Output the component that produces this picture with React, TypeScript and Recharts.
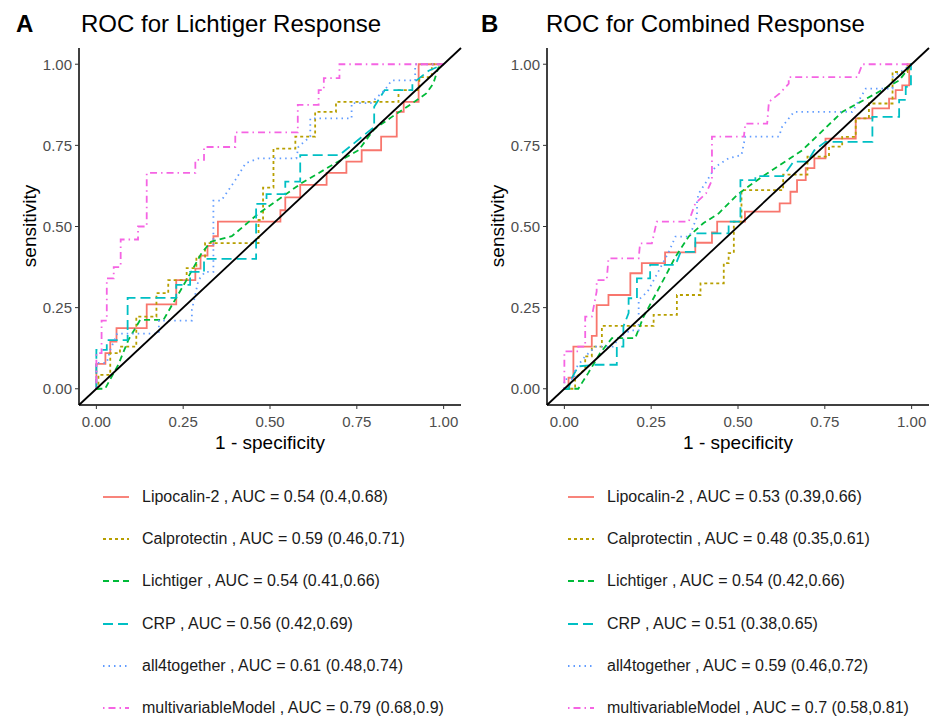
import React from "react";
import { LineChart, Line, XAxis, YAxis, ReferenceLine } from "recharts";

// shared look of the six ROC curves
const seriesNames = ["Lipocalin-2", "Calprotectin", "Lichtiger", "CRP", "all4together", "multivariableModel"];
const seriesColors = ["#F8766D", "#B79F00", "#00BA38", "#00BFC4", "#619CFF", "#F564E3"];
const seriesDash = ["", "3 3", "6 4", "10 5", "1.5 4", "1.5 4 7 4"];
const axisTicks = [0, 0.25, 0.5, 0.75, 1];

const aucA = ["0.54 (0.4,0.68)", "0.59 (0.46,0.71)", "0.54 (0.41,0.66)", "0.56 (0.42,0.69)", "0.61 (0.48,0.74)", "0.79 (0.68,0.9)"];
const aucB = ["0.53 (0.39,0.66)", "0.48 (0.35,0.61)", "0.54 (0.42,0.66)", "0.51 (0.38,0.65)", "0.59 (0.46,0.72)", "0.7 (0.58,0.81)"];

// panel A: [1 - specificity, sensitivity]
const aLipocalin = [[0,0],[0,0.077],[0.026,0.077],[0.026,0.11],[0.04,0.11],[0.04,0.145],[0.058,0.145],[0.058,0.187],[0.145,0.187],[0.145,0.26],[0.23,0.26],[0.23,0.335],[0.285,0.335],[0.285,0.37],[0.3,0.37],[0.3,0.41],[0.32,0.41],[0.32,0.44],[0.337,0.44],[0.337,0.47],[0.35,0.47],[0.35,0.515],[0.53,0.515],[0.53,0.55],[0.544,0.55],[0.544,0.59],[0.587,0.59],[0.587,0.628],[0.663,0.628],[0.663,0.665],[0.72,0.665],[0.72,0.7],[0.764,0.7],[0.764,0.735],[0.82,0.735],[0.82,0.777],[0.865,0.777],[0.865,0.853],[0.885,0.853],[0.885,0.884],[0.928,0.884],[0.928,1],[1,1]];
const aCalprotectin = [[0,0],[0.006,0],[0.006,0.043],[0.04,0.043],[0.04,0.11],[0.068,0.11],[0.068,0.13],[0.115,0.13],[0.115,0.222],[0.173,0.222],[0.173,0.295],[0.207,0.295],[0.207,0.335],[0.26,0.335],[0.26,0.372],[0.288,0.372],[0.288,0.407],[0.313,0.407],[0.313,0.449],[0.467,0.449],[0.467,0.52],[0.48,0.52],[0.48,0.62],[0.51,0.62],[0.51,0.74],[0.573,0.74],[0.573,0.777],[0.63,0.777],[0.63,0.853],[0.69,0.853],[0.69,0.884],[0.87,0.884],[0.87,0.92],[0.93,0.92],[0.93,0.96],[0.966,0.96],[0.966,1],[1,1]];
const aLichtiger = [[0,0],[0.025,0],[0.063,0.074],[0.092,0.15],[0.126,0.212],[0.193,0.212],[0.265,0.345],[0.303,0.418],[0.33,0.453],[0.39,0.47],[0.467,0.54],[0.59,0.633],[0.688,0.695],[0.755,0.735],[0.8,0.8],[0.85,0.837],[0.91,0.88],[0.95,0.91],[0.97,0.94],[0.985,0.99],[1,1]];
const aCRP = [[0,0],[0,0.12],[0.03,0.12],[0.03,0.15],[0.09,0.15],[0.09,0.28],[0.23,0.28],[0.23,0.32],[0.27,0.32],[0.27,0.36],[0.31,0.36],[0.31,0.4],[0.46,0.4],[0.46,0.57],[0.49,0.57],[0.49,0.6],[0.544,0.6],[0.544,0.638],[0.587,0.638],[0.587,0.72],[0.7,0.72],[0.8,0.807],[0.8,0.869],[0.83,0.92],[0.91,0.92],[0.91,0.94],[0.957,0.98],[1,1]];
const aAll4 = [[0,0],[0,0.08],[0.03,0.08],[0.04,0.12],[0.06,0.17],[0.18,0.17],[0.18,0.21],[0.275,0.21],[0.275,0.243],[0.294,0.335],[0.313,0.36],[0.337,0.36],[0.337,0.58],[0.36,0.58],[0.4,0.643],[0.43,0.695],[0.467,0.71],[0.576,0.71],[0.582,0.746],[0.616,0.777],[0.616,0.833],[0.735,0.833],[0.735,0.88],[0.79,0.88],[0.83,0.92],[0.85,0.95],[0.918,0.95],[0.918,1],[1,1]];
const aMulti = [[0,0],[0,0.11],[0.015,0.11],[0.015,0.21],[0.03,0.21],[0.03,0.34],[0.05,0.34],[0.05,0.375],[0.07,0.375],[0.07,0.46],[0.12,0.46],[0.12,0.5],[0.145,0.5],[0.145,0.665],[0.285,0.665],[0.285,0.705],[0.31,0.705],[0.31,0.745],[0.4,0.745],[0.4,0.79],[0.58,0.79],[0.58,0.875],[0.64,0.875],[0.64,0.92],[0.655,0.92],[0.655,0.957],[0.7,0.957],[0.7,1],[1,1]];

// panel B
const bLipocalin = [[0,0],[0.012,0],[0.012,0.034],[0.026,0.034],[0.026,0.13],[0.079,0.13],[0.079,0.163],[0.093,0.163],[0.093,0.258],[0.127,0.258],[0.127,0.289],[0.19,0.289],[0.19,0.356],[0.223,0.356],[0.223,0.387],[0.29,0.387],[0.29,0.42],[0.377,0.42],[0.377,0.45],[0.425,0.45],[0.425,0.482],[0.44,0.482],[0.44,0.515],[0.52,0.515],[0.52,0.546],[0.62,0.546],[0.62,0.571],[0.651,0.571],[0.651,0.607],[0.67,0.607],[0.67,0.643],[0.695,0.643],[0.695,0.68],[0.72,0.68],[0.72,0.71],[0.752,0.71],[0.752,0.771],[0.839,0.771],[0.839,0.833],[0.887,0.833],[0.887,0.864],[0.935,0.864],[0.935,0.894],[0.954,0.894],[0.954,0.92],[0.973,0.92],[0.973,0.935],[0.993,0.935],[0.993,1],[1,1]];
const bCalprotectin = [[0,0],[0.031,0],[0.031,0.034],[0.06,0.06],[0.06,0.1],[0.079,0.1],[0.079,0.13],[0.108,0.13],[0.108,0.194],[0.257,0.194],[0.257,0.228],[0.324,0.228],[0.324,0.289],[0.392,0.289],[0.392,0.325],[0.459,0.325],[0.459,0.387],[0.473,0.387],[0.473,0.418],[0.488,0.418],[0.488,0.515],[0.51,0.515],[0.51,0.612],[0.63,0.612],[0.63,0.66],[0.7,0.66],[0.7,0.715],[0.762,0.715],[0.762,0.746],[0.8,0.746],[0.8,0.776],[0.839,0.776],[0.839,0.833],[0.877,0.833],[0.877,0.879],[0.945,0.879],[0.945,0.976],[0.988,0.976],[0.988,1],[1,1]];
const bLichtiger = [[0,0],[0.04,0],[0.069,0.049],[0.103,0.11],[0.137,0.156],[0.204,0.156],[0.228,0.222],[0.29,0.345],[0.32,0.407],[0.358,0.469],[0.4,0.51],[0.444,0.54],[0.5,0.6],[0.569,0.653],[0.685,0.735],[0.8,0.853],[0.897,0.91],[0.964,0.95],[1,1]];
const bCRP = [[0,0],[0.012,0],[0.02,0.03],[0.04,0.069],[0.089,0.074],[0.151,0.074],[0.151,0.13],[0.17,0.13],[0.17,0.192],[0.185,0.233],[0.185,0.279],[0.209,0.279],[0.209,0.34],[0.247,0.34],[0.247,0.382],[0.32,0.382],[0.335,0.422],[0.377,0.422],[0.377,0.479],[0.473,0.479],[0.473,0.515],[0.507,0.515],[0.507,0.643],[0.55,0.643],[0.55,0.655],[0.63,0.655],[0.66,0.7],[0.7,0.7],[0.72,0.735],[0.752,0.761],[0.887,0.761],[0.887,0.838],[0.964,0.838],[0.964,0.89],[0.983,0.89],[0.983,0.93],[0.998,0.93],[0.998,1],[1,1]];
const bAll4 = [[0,0],[0,0.03],[0.03,0.03],[0.03,0.06],[0.06,0.1],[0.09,0.13],[0.14,0.13],[0.16,0.16],[0.19,0.18],[0.214,0.18],[0.214,0.274],[0.24,0.3],[0.27,0.36],[0.3,0.42],[0.32,0.469],[0.36,0.469],[0.382,0.53],[0.382,0.58],[0.387,0.602],[0.41,0.64],[0.435,0.684],[0.473,0.71],[0.51,0.72],[0.521,0.777],[0.618,0.777],[0.627,0.807],[0.661,0.853],[0.829,0.853],[0.868,0.925],[0.945,0.925],[0.945,0.96],[1,1]];
const bMulti = [[0,0],[0,0.115],[0.04,0.115],[0.04,0.13],[0.06,0.13],[0.06,0.222],[0.079,0.222],[0.093,0.3],[0.093,0.335],[0.122,0.335],[0.127,0.402],[0.214,0.402],[0.218,0.448],[0.252,0.448],[0.266,0.515],[0.358,0.515],[0.377,0.571],[0.408,0.602],[0.425,0.643],[0.425,0.777],[0.517,0.777],[0.521,0.817],[0.584,0.817],[0.589,0.884],[0.62,0.91],[0.646,0.94],[0.646,0.96],[0.844,0.96],[0.858,1],[1,1]];

const curvesA = [aLipocalin, aCalprotectin, aLichtiger, aCRP, aAll4, aMulti];
const curvesB = [bLipocalin, bCalprotectin, bLichtiger, bCRP, bAll4, bMulti];

const font = '"Liberation Sans", Arial, sans-serif';
const fmt = (v: number) => v.toFixed(2);

function Panel({ letter, title, curves, aucs, left, axisW, rightM }: any) {
  const plotRight = 465 - rightM;
  return (
    <div style={{ position: "absolute", left, top: 0, width: 465, height: 716, fontFamily: font, color: "#000" }}>
      <div style={{ position: "absolute", left: 16, top: 10, fontSize: 24, fontWeight: 700, lineHeight: "28px" }}>{letter}</div>
      <div style={{ position: "absolute", left: 81, top: 10, fontSize: 24, lineHeight: "28px", whiteSpace: "nowrap" }}>{title}</div>
      <div style={{ position: "absolute", left: axisW - 49 - 100, top: 226 - 12, width: 200, height: 24, lineHeight: "24px", textAlign: "center", fontSize: 19, transform: "rotate(-90deg)" }}>sensitivity</div>
      <div style={{ position: "absolute", left: (axisW + plotRight) / 2 - 100, top: 443 - 12, width: 200, lineHeight: "24px", textAlign: "center", fontSize: 19 }}>1 - specificity</div>
      <div style={{ position: "absolute", left: 0, top: 0 }}>
        <LineChart width={465} height={460} margin={{ top: 48, right: rightM, bottom: 0, left: 0 }}>
          <XAxis
            type="number"
            dataKey="x"
            domain={[-0.05, 1.05]}
            ticks={axisTicks}
            tickFormatter={fmt}
            allowDataOverflow
            height={55}
            axisLine={{ stroke: "#000", strokeWidth: 1.5 }}
            tickLine={{ stroke: "#333" }}
            tickSize={4}
            tickMargin={7}
            tick={{ fill: "#4D4D4D", fontSize: 15, fontFamily: font }}
          />
          <YAxis
            type="number"
            dataKey="y"
            domain={[-0.05, 1.05]}
            ticks={axisTicks}
            tickFormatter={fmt}
            allowDataOverflow
            width={axisW}
            axisLine={{ stroke: "#000", strokeWidth: 1.5 }}
            tickLine={{ stroke: "#333" }}
            tickSize={4}
            tickMargin={3}
            tick={{ fill: "#4D4D4D", fontSize: 15, fontFamily: font }}
          />
          {curves.map((pts: number[][], i: number) => (
            <Line
              key={seriesNames[i]}
              data={pts.map(([x, y]) => ({ x, y }))}
              dataKey="y"
              type="linear"
              stroke={seriesColors[i]}
              strokeWidth={1.8}
              strokeDasharray={seriesDash[i] || undefined}
              dot={false}
              activeDot={false}
              isAnimationActive={false}
            />
          ))}
          <ReferenceLine
            segment={[{ x: -0.05, y: -0.05 }, { x: 1.05, y: 1.05 }]}
            stroke="#000"
            strokeWidth={1.8}
          />
        </LineChart>
      </div>
      {seriesNames.map((name, i) => {
        const cy = 497 + i * 42.2;
        return (
          <div key={name} style={{ position: "absolute", left: 0, top: cy - 9, height: 18, width: 465 }}>
            <svg width={26} height={18} style={{ position: "absolute", left: 103, top: 0 }}>
              <line x1={0} y1={9} x2={26} y2={9} stroke={seriesColors[i]} strokeWidth={1.8} strokeDasharray={seriesDash[i] || undefined} />
            </svg>
            <div style={{ position: "absolute", left: 142, top: 0, lineHeight: "18px", fontSize: 16, color: "#1a1a1a", whiteSpace: "nowrap" }}>
              {name} , AUC = {aucs[i]}
            </div>
          </div>
        );
      })}
    </div>
  );
}

export default function App() {
  return (
    <div style={{ position: "absolute", left: 0, top: 0, width: 930, height: 716, background: "#fff" }}>
      <Panel letter="A" title="ROC for Lichtiger Response" curves={curvesA} aucs={aucA} left={0} axisW={79} rightM={4} />
      <Panel letter="B" title="ROC for Combined Response" curves={curvesB} aucs={aucB} left={465} axisW={82} rightM={1} />
    </div>
  );
}
